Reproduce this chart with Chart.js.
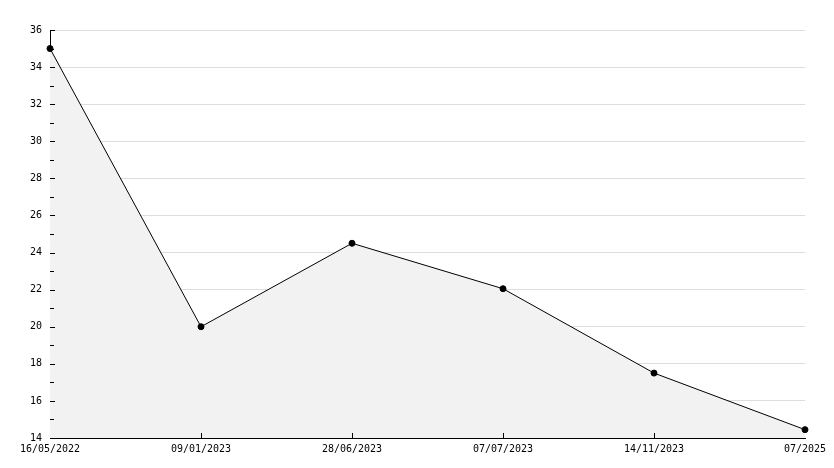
<!DOCTYPE html>
<html>
<head>
<meta charset="utf-8">
<script src="https://cdn.jsdelivr.net/npm/chart.js@4/dist/chart.umd.min.js"></script>
<style>
  html, body { margin: 0; padding: 0; background: #fff; }
  #wrap { width: 834px; height: 468px; }
</style>
</head>
<body>
<div id="wrap"><canvas id="grafico" width="834" height="468"></canvas></div>
<script>
// categorias y valores
const fechas = ['16/05/2022', '09/01/2023', '28/06/2023', '07/07/2023', '14/11/2023', '07/2025'];
const valores = [35, 20, 24.5, 22.05, 17.5, 14.45];
const yMin = 14;
const yMax = 36;

// marcas cortas hacia dentro (mayores y menores) sobre los ejes
const marcasInternas = {
    id: 'marcasInternas',
    afterDatasetsDraw(chart) {
        const c = chart.ctx;
        const x = chart.scales.x;
        const y = chart.scales.y;
        const area = chart.chartArea;
        c.save();
        c.strokeStyle = '#000';
        c.lineWidth = 1;
        c.beginPath();
        for (let v = yMin; v <= yMax; v++) {
            const py = Math.round(y.getPixelForValue(v)) + 0.5;
            const len = (v % 2 === 0) ? 5 : 4;
            c.moveTo(area.left, py);
            c.lineTo(area.left + len, py);
        }
        for (let i = 1; i < fechas.length - 1; i++) {
            const px = Math.round(x.getPixelForValue(i)) + 0.5;
            c.moveTo(px, area.bottom);
            c.lineTo(px, area.bottom - 5);
        }
        c.stroke();
        c.restore();
    }
};

new Chart(document.getElementById('grafico'), {
    type: 'line',
    data: {
        labels: fechas,
        datasets: [{
            data: valores,
            borderColor: '#000',
            borderWidth: 1,
            backgroundColor: '#f2f2f2',
            fill: 'start',
            tension: 0,
            pointRadius: 3,
            pointBackgroundColor: '#000',
            pointBorderColor: '#000',
            pointBorderWidth: 1
        }]
    },
    options: {
        responsive: false,
        animation: false,
        layout: { padding: { top: 30, right: 29, left: 0, bottom: 0 } },
        scales: {
            x: {
                offset: false,
                grid: { display: false, drawTicks: false },
                border: { display: true, color: '#000', width: 1 },
                ticks: {
                    color: '#000',
                    font: { family: 'DejaVu Sans Mono', size: 10 },
                    maxRotation: 0,
                    autoSkip: false,
                    padding: 5
                },
                afterFit(s) { s.height = 30; }
            },
            y: {
                min: yMin,
                max: yMax,
                grid: { color: '#dddddd', drawTicks: false },
                border: { display: true, color: '#000', width: 1 },
                ticks: {
                    stepSize: 2,
                    color: '#000',
                    font: { family: 'DejaVu Sans Mono', size: 10 },
                    padding: 8
                },
                afterFit(s) { s.width = 50; }
            }
        },
        plugins: {
            legend: { display: false },
            tooltip: { enabled: false }
        }
    },
    plugins: [marcasInternas]
});
</script>
</body>
</html>
